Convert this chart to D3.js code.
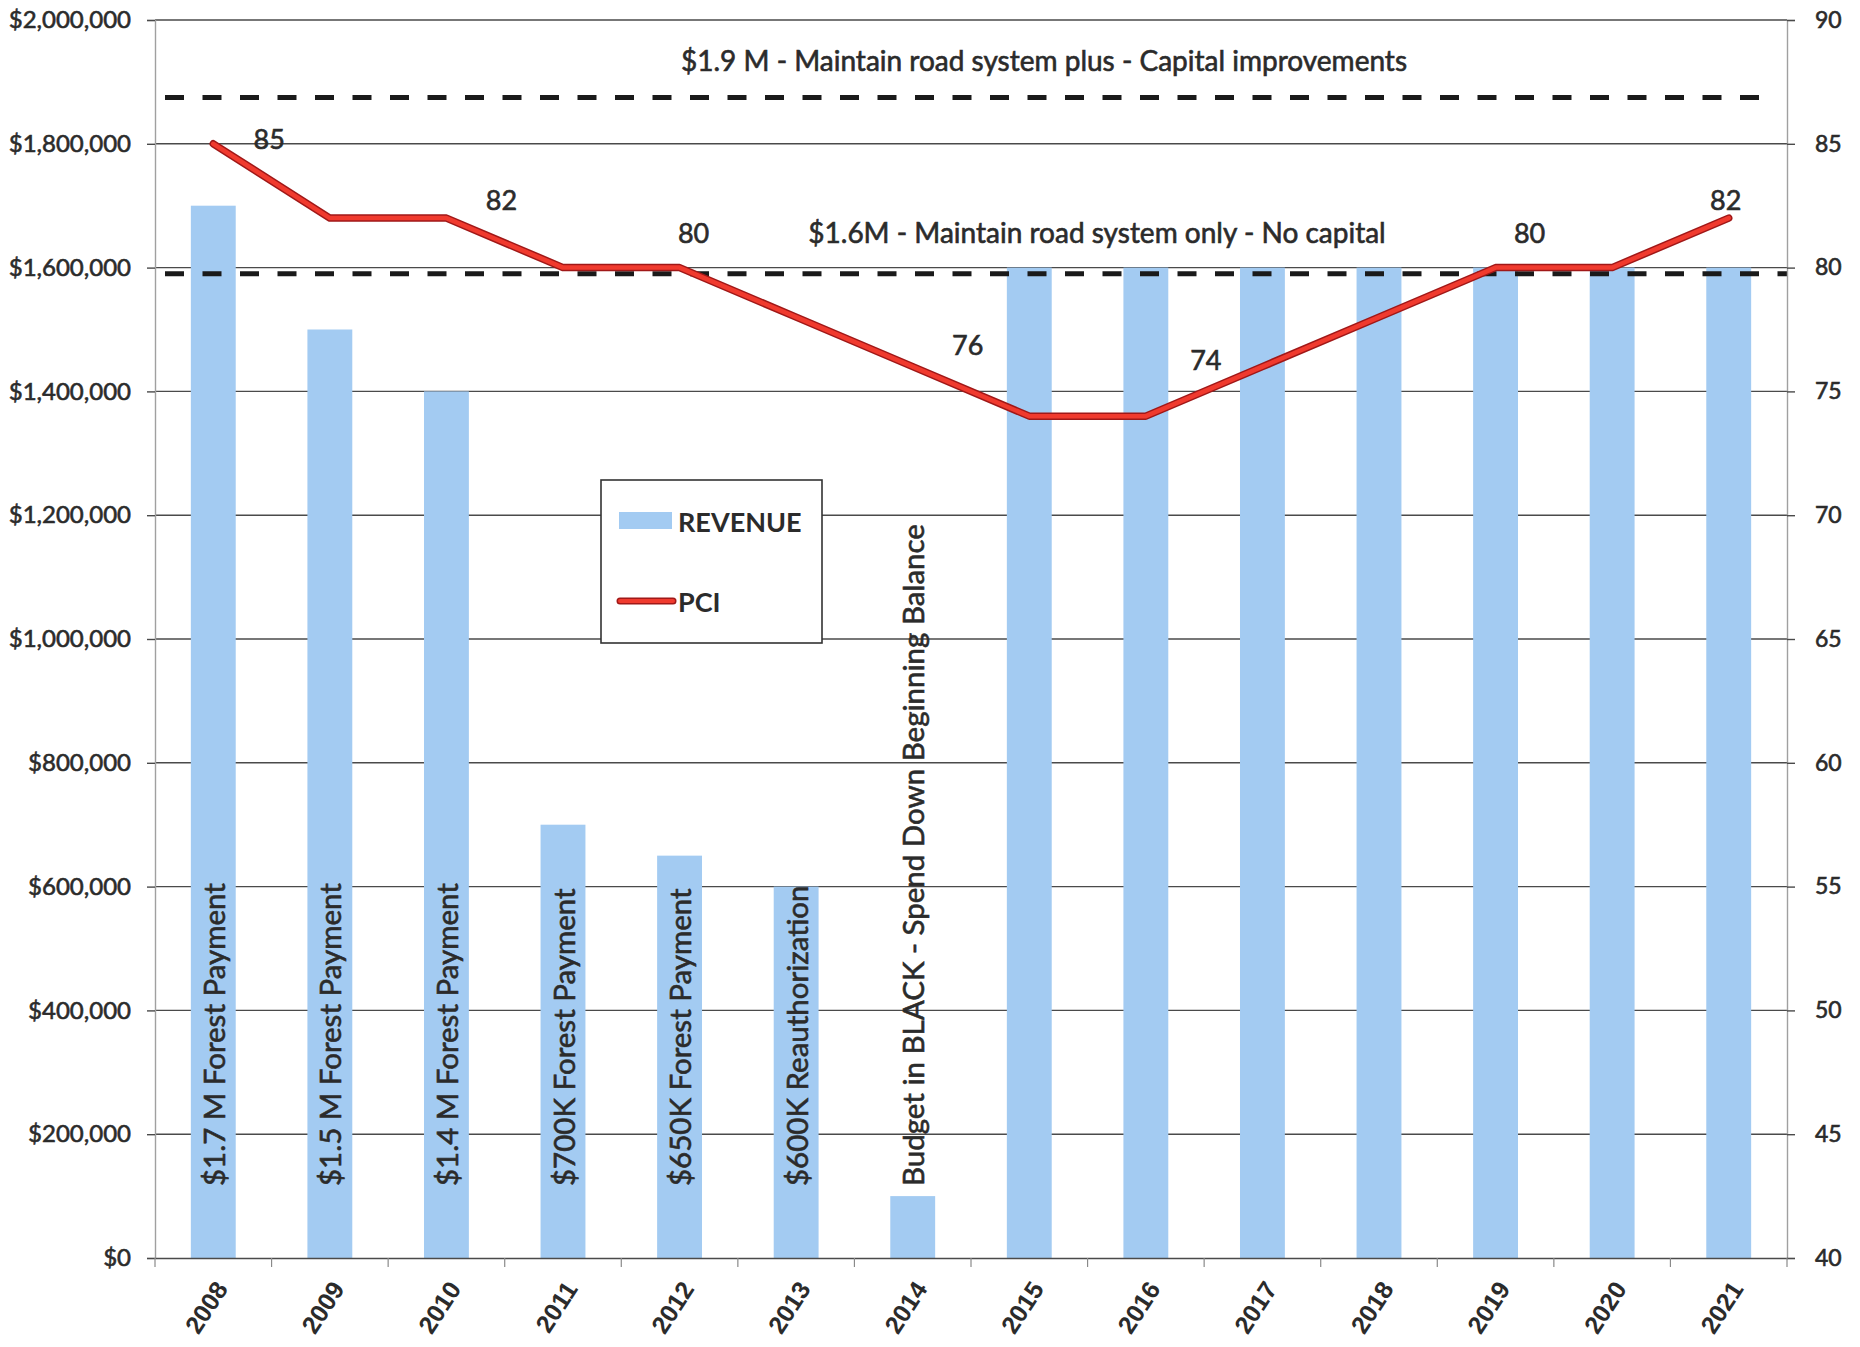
<!DOCTYPE html>
<html>
<head>
<meta charset="utf-8">
<script src="https://cdn.jsdelivr.net/npm/d3@7"></script>
<style>
  html, body { margin: 0; padding: 0; background: #fff; }
  svg { display: block; font-family: Lato, "Open Sans", sans-serif; }
  .heavy { stroke: #2b2b2b; stroke-width: 0.6px; paint-order: stroke; }
</style>
</head>
<body>
<svg id="chart" width="1860" height="1347"></svg>
<script>
// Road fund revenue by year (bars, left axis) and pavement condition index (line, right axis)
const years = ["2008","2009","2010","2011","2012","2013","2014","2015","2016","2017","2018","2019","2020","2021"];
const revenue = [1700000, 1500000, 1400000, 700000, 650000, 600000, 100000, 1600000, 1600000, 1600000, 1600000, 1600000, 1600000, 1600000];
const pci = [85, 82, 82, 80, 80, 78, 76, 74, 74, 76, 78, 80, 80, 82];

// Notes written up the inside of the early bars
const barNotes = ["$1.7 M Forest Payment", "$1.5 M Forest Payment", "$1.4 M Forest Payment",
  "$700K Forest Payment", "$650K Forest Payment", "$600K Reauthorization",
  "Budget in BLACK - Spend Down Beginning Balance"];

// Funding thresholds drawn as dashed reference lines
const thresholdValues = [1875000, 1590000];
const thresholdLabels = ["$1.9 M - Maintain road system plus - Capital improvements",
  "$1.6M - Maintain road system only - No capital"];

// PCI points that carry a value label
const pciLabelYears = ["2008", "2010", "2012", "2014", "2016", "2019", "2021"];

const leftTicks = [0, 200000, 400000, 600000, 800000, 1000000, 1200000, 1400000, 1600000, 1800000, 2000000];
const rightTicks = [40, 45, 50, 55, 60, 65, 70, 75, 80, 85, 90];

// ---- layout ----
const plot = { left: 155, right: 1787, top: 20, bottom: 1258 };
// label nudges (px) for the PCI value labels, same order as pciLabelYears
const pciLabelNudge = [[56, -5], [55, -19], [14, -35], [55, -22], [60, -57], [34, -35], [-3, -19]];
// where each dashed threshold line stops on the right
const thresholdEnds = [1776, 1787];

const svg = d3.select("#chart");

const x = d3.scaleBand().domain(years).range([plot.left, plot.right]).paddingInner(0.615).paddingOuter(0.3075);
const yL = d3.scaleLinear().domain([0, 2000000]).range([plot.bottom, plot.top]);
const yR = d3.scaleLinear().domain([40, 90]).range([plot.bottom, plot.top]);
const cx = d => x(d) + x.bandwidth() / 2;

const textColor = "#2b2b2b";

// gridlines
svg.append("g").selectAll("line").data(leftTicks.filter(v => v > 0)).join("line")
  .attr("x1", plot.left).attr("x2", plot.right)
  .attr("y1", d => yL(d)).attr("y2", d => yL(d))
  .attr("stroke", "#4a4a4a").attr("stroke-width", 1.4);

// bars
svg.append("g").selectAll("rect").data(years).join("rect")
  .attr("x", d => x(d)).attr("width", x.bandwidth())
  .attr("y", (d, i) => yL(revenue[i]))
  .attr("height", (d, i) => yL(0) - yL(revenue[i]))
  .attr("fill", "#a3cbf2");

// vertical notes in the bars
svg.append("g").selectAll("text").data(barNotes).join("text")
  .attr("class", "heavy")
  .attr("transform", (d, i) => `translate(${cx(years[i])},1186) rotate(-90)`)
  .attr("text-anchor", "start").attr("dominant-baseline", "central")
  .attr("font-size", 29.5).attr("fill", textColor)
  .text(d => d);

// threshold lines and their captions
svg.append("g").selectAll("line").data(thresholdValues).join("line")
  .attr("x1", plot.left + 10).attr("x2", (d, i) => thresholdEnds[i])
  .attr("y1", d => yL(d)).attr("y2", d => yL(d))
  .attr("stroke", "#1a1a1a").attr("stroke-width", 5)
  .attr("stroke-dasharray", "19,18.5");

svg.append("text").attr("class", "heavy").attr("x", 1044).attr("y", 60)
  .attr("text-anchor", "middle").attr("dominant-baseline", "central")
  .attr("font-size", 28).attr("fill", textColor).text(thresholdLabels[0]);
svg.append("text").attr("class", "heavy").attr("x", 1097).attr("y", 232)
  .attr("text-anchor", "middle").attr("dominant-baseline", "central")
  .attr("font-size", 28).attr("fill", textColor).text(thresholdLabels[1]);

// PCI line: dark edge under a bright red core
const line = d3.line().x((d, i) => cx(years[i])).y(d => yR(d));
svg.append("path").datum(pci).attr("d", line)
  .attr("fill", "none").attr("stroke", "#a01818").attr("stroke-width", 7.5)
  .attr("stroke-linejoin", "round").attr("stroke-linecap", "round");
svg.append("path").datum(pci).attr("d", line)
  .attr("fill", "none").attr("stroke", "#f03a2e").attr("stroke-width", 4.5)
  .attr("stroke-linejoin", "round").attr("stroke-linecap", "round");

// PCI value labels
svg.append("g").selectAll("text").data(pciLabelYears).join("text")
  .attr("class", "heavy")
  .attr("x", (d, i) => cx(d) + pciLabelNudge[i][0])
  .attr("y", (d, i) => yR(pci[years.indexOf(d)]) + pciLabelNudge[i][1])
  .attr("text-anchor", "middle").attr("dominant-baseline", "central")
  .attr("font-size", 27).attr("fill", textColor)
  .text(d => pci[years.indexOf(d)]);

// axes
const axisL = svg.append("g").attr("transform", `translate(${plot.left},0)`)
  .call(d3.axisLeft(yL).tickValues(leftTicks).tickSize(8).tickPadding(16)
    .tickFormat(d => "$" + d3.format(",")(d)));
const axisR = svg.append("g").attr("transform", `translate(${plot.right},0)`)
  .call(d3.axisRight(yR).tickValues(rightTicks).tickSize(8).tickPadding(20));
const axisB = svg.append("g").attr("transform", `translate(0,${plot.bottom})`)
  .call(d3.axisBottom(x).tickSize(0).tickFormat(""));

[axisL, axisR].forEach(g => {
  g.select(".domain").attr("stroke", "#a0a0a0").attr("stroke-width", 1.4);
  g.selectAll(".tick line").attr("stroke", "#4a4a4a").attr("stroke-width", 1.4);
  g.selectAll(".tick text").attr("class", "heavy").attr("fill", textColor)
    .attr("font-family", "Lato, 'Open Sans', sans-serif");
});
axisL.selectAll(".tick text").attr("font-size", 24);
axisR.selectAll(".tick text").attr("font-size", 23);
axisB.select(".domain").attr("stroke", "#4a4a4a").attr("stroke-width", 1.6);

// category boundary ticks on the bottom axis
const bounds = d3.range(years.length + 1).map(i => plot.left + i * (plot.right - plot.left) / years.length);
axisB.append("g").selectAll("line").data(bounds).join("line")
  .attr("x1", d => d).attr("x2", d => d).attr("y1", 0).attr("y2", 9)
  .attr("stroke", "#8a8a8a").attr("stroke-width", 1.2);

// year labels, slanted
axisB.append("g").selectAll("text").data(years).join("text")
  .attr("transform", d => `translate(${cx(d) + 8},26) rotate(-57)`)
  .attr("text-anchor", "end").attr("dominant-baseline", "central")
  .attr("font-size", 25).attr("font-weight", 700).attr("fill", textColor)
  .text(d => d);

// legend
const lg = svg.append("g").attr("transform", "translate(601,480)");
lg.append("rect").attr("width", 221).attr("height", 163)
  .attr("fill", "#fff").attr("stroke", "#333").attr("stroke-width", 1.6);
lg.append("rect").attr("x", 18).attr("y", 32).attr("width", 53).attr("height", 17).attr("fill", "#a3cbf2");
lg.append("line").attr("x1", 19).attr("x2", 72).attr("y1", 121).attr("y2", 121)
  .attr("stroke", "#a01818").attr("stroke-width", 7).attr("stroke-linecap", "round");
lg.append("line").attr("x1", 19).attr("x2", 72).attr("y1", 121).attr("y2", 121)
  .attr("stroke", "#f03a2e").attr("stroke-width", 4).attr("stroke-linecap", "round");
lg.append("text").attr("x", 77).attr("y", 41).attr("dominant-baseline", "central")
  .attr("font-size", 27).attr("font-weight", 700).attr("fill", textColor).text("REVENUE");
lg.append("text").attr("x", 77).attr("y", 121).attr("dominant-baseline", "central")
  .attr("font-size", 27).attr("font-weight", 700).attr("fill", textColor).text("PCI");
</script>
</body>
</html>
